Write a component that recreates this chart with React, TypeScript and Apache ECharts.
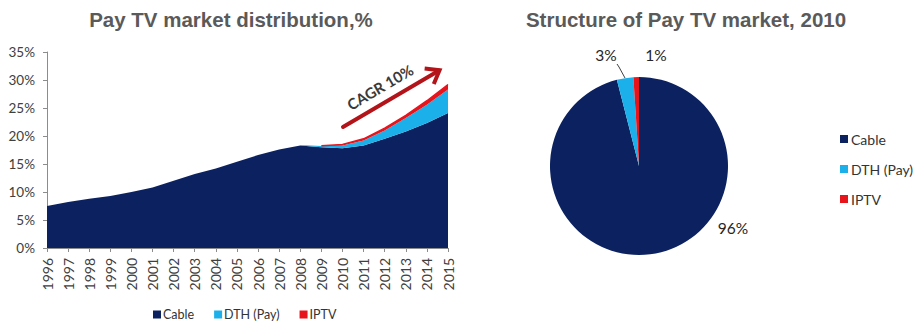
import React, { useEffect, useRef } from "react";
import * as echarts from "echarts";

const years = ["1996","1997","1998","1999","2000","2001","2002","2003","2004","2005","2006","2007","2008","2009","2010","2011","2012","2013","2014","2015"];
const cable = [7.5, 8.2, 8.8, 9.3, 10.0, 10.8, 12.0, 13.2, 14.2, 15.4, 16.6, 17.6, 18.3, 18.0, 17.8, 18.3, 19.5, 20.8, 22.3, 24.1];
const dth: (number | string)[] = ["-", "-", "-", "-", "-", "-", "-", "-", "-", "-", "-", "-", 0.1, 0.2, 0.5, 0.9, 1.5, 2.4, 3.3, 4.2];
const iptv: (number | string)[] = ["-", "-", "-", "-", "-", "-", "-", "-", "-", "-", "-", "-", "-", 0.05, 0.2, 0.3, 0.4, 0.5, 0.7, 0.9];
const yTicks = [0, 5, 10, 15, 20, 25, 30, 35];

const pieNames = ["Cable", "DTH (Pay)", "IPTV"];
const pieValues = [96, 3, 1];

const COLORS = ["#0b2160", "#1cb0ea", "#e8141c"];
const FONT = "Lato";

export default function App() {
  const ref = useRef<HTMLDivElement>(null);
  useEffect(() => {
    document.body.style.margin = "0";
    const chart = echarts.init(ref.current!, undefined, { renderer: "svg" });
    const labelPos: Record<number, any> = {
      0: { x: 733, y: 228 },
      1: { x: 606, y: 55, line: [[625, 78], [619, 67], [617, 64]] },
      2: { x: 656, y: 55 },
    };
    const angle = Math.atan2(57, 97);
    const arrowLen = 112;
    chart.setOption({
      animation: false,
      color: COLORS,
      textStyle: { fontFamily: FONT },
      title: [
        {
          text: "Pay TV market distribution,%",
          left: 226,
          textAlign: "center",
          top: 4,
          textStyle: { fontFamily: "Liberation Sans", fontWeight: "bold", fontSize: 20.5, color: "#5a5a5a" },
        },
        {
          text: "Structure of Pay TV market, 2010",
          left: 681,
          textAlign: "center",
          top: 4,
          textStyle: { fontFamily: "Liberation Sans", fontWeight: "bold", fontSize: 20.5, color: "#5a5a5a" },
        },
      ],
      legend: [
        {
          data: pieNames,
          left: 153,
          top: 308,
          padding: 0,
          orient: "horizontal",
          icon: "rect",
          itemWidth: 8,
          itemHeight: 8,
          itemGap: 20,
          textStyle: { fontFamily: FONT, fontSize: 12.5, color: "#333", padding: [0, 0, 0, -3] },
        },
        {
          data: pieNames,
          left: 835,
          top: 127,
          orient: "vertical",
          icon: "rect",
          itemWidth: 8,
          itemHeight: 8,
          itemGap: 16,
          textStyle: { fontFamily: FONT, fontSize: 14, color: "#333", padding: [0, 0, 0, -2] },
        },
      ],
      grid: { left: 47, width: 401, top: 52, height: 196 },
      xAxis: {
        type: "category",
        data: years,
        boundaryGap: false,
        axisLine: { lineStyle: { color: "#8c8c8c" } },
        axisTick: { show: true, alignWithLabel: true, length: 4, lineStyle: { color: "#8c8c8c" } },
        axisLabel: { rotate: 90, interval: 0, fontFamily: FONT, fontSize: 14, color: "#404040", margin: 10 },
      },
      yAxis: {
        type: "value",
        min: yTicks[0],
        max: yTicks[yTicks.length - 1],
        interval: 5,
        splitLine: { show: false },
        axisLine: { show: true, lineStyle: { color: "#8c8c8c" } },
        axisTick: { show: true, length: 4, lineStyle: { color: "#8c8c8c" } },
        axisLabel: { formatter: "{value}%", fontFamily: FONT, fontSize: 13.5, color: "#404040", margin: 12 },
      },
      series: [
        {
          name: "Cable",
          type: "line",
          stack: "total",
          data: cable,
          symbol: "none",
          lineStyle: { width: 0 },
          areaStyle: { color: COLORS[0], opacity: 1 },
          itemStyle: { color: COLORS[0] },
        },
        {
          name: "DTH (Pay)",
          type: "line",
          stack: "total",
          data: dth,
          symbol: "none",
          lineStyle: { width: 0 },
          areaStyle: { color: COLORS[1], opacity: 1 },
          itemStyle: { color: COLORS[1] },
        },
        {
          name: "IPTV",
          type: "line",
          stack: "total",
          data: iptv,
          symbol: "none",
          lineStyle: { width: 1.5, color: COLORS[2] },
          areaStyle: { color: COLORS[2], opacity: 1 },
          itemStyle: { color: COLORS[2] },
        },
        {
          name: "Structure",
          type: "pie",
          center: [639, 166],
          radius: 89,
          startAngle: 90,
          clockwise: true,
          data: pieNames.map((n, i) => ({
            name: n,
            value: pieValues[i],
            itemStyle: { color: COLORS[i] },
            labelLine: { show: i === 1, length: 6, length2: 4, lineStyle: { color: "#404040", width: 1 } },
          })),
          label: {
            show: true,
            position: "outside",
            formatter: (p: any) => p.value + "%",
            fontFamily: FONT,
            fontSize: 15.5,
            color: "#262626",
          },
          labelLayout: (params: any) => {
            const pos = labelPos[params.dataIndex];
            const res: any = { x: pos.x, y: pos.y, align: "center", verticalAlign: "middle" };
            if (pos.line) res.labelLinePoints = pos.line;
            return res;
          },
        },
      ],
      graphic: [
        {
          type: "group",
          x: 343,
          y: 127,
          rotation: angle,
          children: [
            {
              type: "line",
              shape: { x1: 0, y1: 0, x2: arrowLen - 1, y2: 0 },
              style: { stroke: "#b3141a", lineWidth: 4, lineCap: "round" },
            },
            {
              type: "polyline",
              shape: { points: [[arrowLen - 12, -9], [arrowLen, 0], [arrowLen - 12, 9]] },
              style: { stroke: "#b3141a", lineWidth: 4, fill: null, lineJoin: "miter" },
            },
          ],
        },
        {
          type: "text",
          x: 380,
          y: 87,
          rotation: angle,
          style: {
            text: "CAGR 10%",
            fontFamily: FONT,
            fontWeight: "bold",
            fontSize: 15,
            fill: "#3a3a3a",
            align: "center",
            verticalAlign: "middle",
          },
        },
      ],
    });
    return () => chart.dispose();
  }, []);
  return <div ref={ref} style={{ width: 914, height: 324 }} />;
}
